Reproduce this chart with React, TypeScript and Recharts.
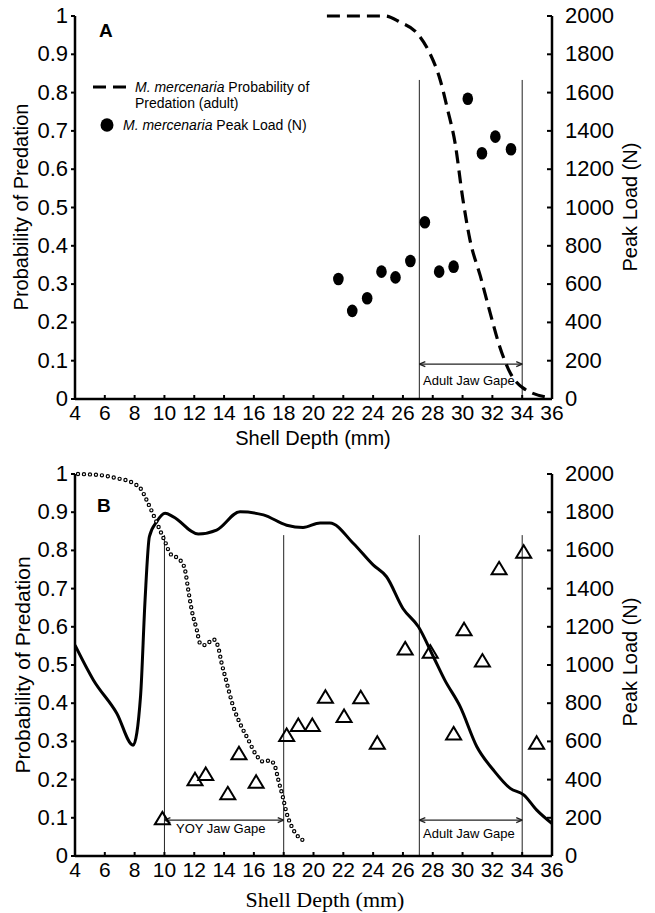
import React from 'react';
import { ComposedChart, Line, Scatter, XAxis, YAxis, ReferenceLine } from 'recharts';

// axis ticks
const xTicks = [4, 6, 8, 10, 12, 14, 16, 18, 20, 22, 24, 26, 28, 30, 32, 34, 36];
const probTicks = [0, 0.1, 0.2, 0.3, 0.4, 0.5, 0.6, 0.7, 0.8, 0.9, 1];
const loadTicks = [0, 200, 400, 600, 800, 1000, 1200, 1400, 1600, 1800, 2000];

// panel A: adult probability of predation (dashed) and peak load (dots)
const adultProbA = [
  { x: 20.9, p: 1.0 }, { x: 24.8, p: 1.0 }, { x: 25.8, p: 0.984 }, { x: 26.95, p: 0.955 },
  { x: 27.8, p: 0.903 }, { x: 28.5, p: 0.833 }, { x: 29.0, p: 0.755 }, { x: 29.5, p: 0.668 },
  { x: 30.0, p: 0.527 }, { x: 30.5, p: 0.415 }, { x: 31.2, p: 0.32 }, { x: 31.85, p: 0.225 },
  { x: 32.5, p: 0.136 }, { x: 33.2, p: 0.068 }, { x: 34.05, p: 0.029 }, { x: 35.9, p: 0.003 },
];
const peakLoadA = [
  { x: 21.67, load: 627 }, { x: 22.6, load: 460 }, { x: 23.6, load: 526 }, { x: 24.56, load: 665 },
  { x: 25.5, load: 635 }, { x: 26.5, load: 721 }, { x: 27.47, load: 923 }, { x: 28.43, load: 665 },
  { x: 29.4, load: 691 }, { x: 30.35, load: 1568 }, { x: 31.3, load: 1283 }, { x: 32.2, load: 1370 },
  { x: 33.25, load: 1304 },
];

// panel B: solid probability curve, YOY dotted curve, peak load triangles
const solidProbB = [
  { x: 4, p: 0.552 }, { x: 5.23, p: 0.461 }, { x: 6.8, p: 0.374 }, { x: 7.9, p: 0.29 },
  { x: 8.4, p: 0.42 }, { x: 8.7, p: 0.67 }, { x: 8.99, p: 0.836 }, { x: 9.48, p: 0.875 },
  { x: 10.04, p: 0.897 }, { x: 10.6, p: 0.888 }, { x: 12.27, p: 0.843 }, { x: 13.5, p: 0.853 },
  { x: 15.07, p: 0.901 }, { x: 16.64, p: 0.893 }, { x: 18.2, p: 0.866 }, { x: 19.3, p: 0.86 },
  { x: 20.44, p: 0.872 }, { x: 21.1, p: 0.872 }, { x: 22.68, p: 0.818 }, { x: 24.0, p: 0.762 },
  { x: 24.9, p: 0.731 }, { x: 26.0, p: 0.648 }, { x: 27.04, p: 0.6 }, { x: 28.05, p: 0.521 },
  { x: 28.8, p: 0.461 }, { x: 29.84, p: 0.391 }, { x: 30.96, p: 0.286 }, { x: 32.07, p: 0.225 },
  { x: 33.2, p: 0.177 }, { x: 34.1, p: 0.16 }, { x: 34.98, p: 0.12 }, { x: 36, p: 0.085 },
];
const yoyProbB = [
  { x: 4.2, p: 1.0 }, { x: 5.68, p: 0.997 }, { x: 6.8, p: 0.989 }, { x: 7.9, p: 0.976 },
  { x: 8.47, p: 0.958 }, { x: 8.8, p: 0.932 }, { x: 9.26, p: 0.893 }, { x: 9.7, p: 0.853 },
  { x: 10.04, p: 0.823 }, { x: 10.38, p: 0.792 }, { x: 11.05, p: 0.775 }, { x: 11.38, p: 0.749 },
  { x: 11.6, p: 0.696 }, { x: 11.83, p: 0.644 }, { x: 12.17, p: 0.592 }, { x: 12.39, p: 0.557 },
  { x: 12.72, p: 0.552 }, { x: 13.28, p: 0.567 }, { x: 13.6, p: 0.548 }, { x: 13.84, p: 0.504 },
  { x: 14.07, p: 0.47 }, { x: 14.62, p: 0.391 }, { x: 15.07, p: 0.347 }, { x: 15.63, p: 0.304 },
  { x: 16.08, p: 0.269 }, { x: 16.64, p: 0.247 }, { x: 17.09, p: 0.25 }, { x: 17.42, p: 0.234 },
  { x: 17.64, p: 0.199 }, { x: 17.94, p: 0.155 }, { x: 18.2, p: 0.112 }, { x: 18.54, p: 0.077 },
  { x: 18.88, p: 0.055 }, { x: 19.26, p: 0.042 },
];
const peakLoadB = [
  { x: 9.86, load: 197 }, { x: 12.05, load: 402 }, { x: 12.77, load: 429 }, { x: 14.25, load: 328 },
  { x: 15.0, load: 538 }, { x: 16.15, load: 389 }, { x: 18.2, load: 634 }, { x: 18.98, load: 686 },
  { x: 19.92, load: 686 }, { x: 20.8, load: 834 }, { x: 22.05, load: 733 }, { x: 23.17, load: 831 },
  { x: 24.28, load: 593 }, { x: 26.15, load: 1087 }, { x: 27.83, load: 1070 }, { x: 29.4, load: 642 },
  { x: 30.1, load: 1187 }, { x: 31.33, load: 1023 }, { x: 32.45, load: 1506 }, { x: 34.1, load: 1593 },
  { x: 34.97, load: 593 },
];

// jaw gape ranges (shell depth) and the probability level of the arrows
const gapesA = [{ from: 27.1, to: 34.0, top: 0.833, arrowY: 0.091 }];
const gapesB = [
  { from: 10, to: 18, top: 0.84, arrowY: 0.094 },
  { from: 27.1, to: 34.0, top: 0.84, arrowY: 0.094 },
];

const SANS = '"Liberation Sans", Arial, sans-serif';
const SERIF = '"Liberation Serif", "Times New Roman", serif';
const AXIS = { stroke: '#000', strokeWidth: 2.5 };

const XTick = ({ x, y, payload }: any) => (
  <g>
    <line x1={x} y1={y} x2={x} y2={y - 4} stroke="#000" strokeWidth={2} />
    <text x={x} y={y + 21} textAnchor="middle" fontSize={21} fontFamily={SANS} fill="#000">
      {payload.value}
    </text>
  </g>
);

const LeftTick = ({ x, y, payload }: any) => (
  <g>
    <line x1={x} y1={y} x2={x - 4} y2={y} stroke="#000" strokeWidth={2} />
    <text x={x - 7} y={y + 7} textAnchor="end" fontSize={22} fontFamily={SANS} fill="#000">
      {payload.value}
    </text>
  </g>
);

const RightTick = ({ x, y, payload }: any) => (
  <g>
    <line x1={x} y1={y} x2={x - 5} y2={y} stroke="#000" strokeWidth={2} />
    <text x={x + 13} y={y + 7} textAnchor="start" fontSize={22} fontFamily={SANS} fill="#000">
      {payload.value}
    </text>
  </g>
);

const renderDot = (p: any) => <ellipse cx={p.cx} cy={p.cy} rx={5.3} ry={6.3} fill="#000" />;
const renderTriangle = (p: any) => (
  <polygon
    points={`${p.cx},${p.cy - 6.5} ${p.cx + 7.5},${p.cy + 6} ${p.cx - 7.5},${p.cy + 6}`}
    fill="none"
    stroke="#000"
    strokeWidth={2}
    strokeLinejoin="miter"
  />
);

// gape bracket: two vertical lines, a double-headed arrow between them
const HEAD_X = 0.4;
const HEAD_Y = 0.0065;
const gapeLines = (g: { from: number; to: number; top: number; arrowY: number }, i: number) => {
  const segs: [number, number, number, number][] = [
    [g.from, 0, g.from, g.top],
    [g.to, 0, g.to, g.top],
    [g.from, g.arrowY, g.to, g.arrowY],
    [g.from, g.arrowY, g.from + HEAD_X, g.arrowY + HEAD_Y],
    [g.from, g.arrowY, g.from + HEAD_X, g.arrowY - HEAD_Y],
    [g.to, g.arrowY, g.to - HEAD_X, g.arrowY + HEAD_Y],
    [g.to, g.arrowY, g.to - HEAD_X, g.arrowY - HEAD_Y],
  ];
  return segs.map((s, j) => (
    <ReferenceLine
      key={`g${i}-${j}`}
      yAxisId="left"
      segment={[{ x: s[0], y: s[1] }, { x: s[2], y: s[3] }]}
      stroke="#222"
      strokeWidth={j < 2 ? 1 : 1.3}
      ifOverflow="visible"
    />
  ));
};

const axes = (
  <>
    <XAxis
      dataKey="x"
      type="number"
      domain={[4, 36]}
      ticks={xTicks}
      interval={0}
      height={30}
      axisLine={AXIS}
      tickLine={false}
      tickSize={0}
      tickMargin={0}
      tick={XTick}
      allowDataOverflow
    />
    <YAxis
      yAxisId="left"
      type="number"
      domain={[0, 1]}
      ticks={probTicks}
      interval={0}
      width={75}
      axisLine={AXIS}
      tickLine={false}
      tickSize={0}
      tickMargin={0}
      tick={LeftTick}
    />
    <YAxis
      yAxisId="right"
      orientation="right"
      type="number"
      domain={[0, 2000]}
      ticks={loadTicks}
      interval={0}
      width={103}
      axisLine={AXIS}
      tickLine={false}
      tickSize={0}
      tickMargin={0}
      tick={RightTick}
    />
  </>
);

const Italic = ({ children }: any) => <tspan fontStyle="italic">{children}</tspan>;

export default function App() {
  return (
    <div style={{ position: 'absolute', left: 0, top: 0, width: 655, height: 913, background: '#fff' }}>
      <div style={{ position: 'absolute', left: 0, top: 0 }}>
        <ComposedChart width={655} height={450} margin={{ top: 16, right: 0, bottom: 21, left: 0 }}>
          {axes.props.children}
          {gapesA.map(gapeLines)}
          <Line
            data={adultProbA}
            dataKey="p"
            yAxisId="left"
            type="monotone"
            stroke="#000"
            strokeWidth={3.2}
            strokeDasharray="13 7"
            dot={false}
            isAnimationActive={false}
          />
          <Scatter data={peakLoadA} dataKey="load" yAxisId="right" shape={renderDot} isAnimationActive={false} />
        </ComposedChart>
      </div>
      <div style={{ position: 'absolute', left: 0, top: 450 }}>
        <ComposedChart width={655} height={463} margin={{ top: 24, right: 0, bottom: 27, left: 0 }}>
          {axes.props.children}
          {gapesB.map(gapeLines)}
          <Line
            data={solidProbB}
            dataKey="p"
            yAxisId="left"
            type="monotone"
            stroke="#000"
            strokeWidth={3}
            dot={false}
            isAnimationActive={false}
          />
          <Line
            data={yoyProbB}
            dataKey="p"
            yAxisId="left"
            type="monotone"
            stroke="#000"
            strokeWidth={4.4}
            strokeDasharray="0 6"
            strokeLinecap="round"
            dot={false}
            isAnimationActive={false}
          />
          <Line
            data={yoyProbB}
            dataKey="p"
            yAxisId="left"
            type="monotone"
            stroke="#fff"
            strokeWidth={2}
            strokeDasharray="0 6"
            strokeLinecap="round"
            dot={false}
            isAnimationActive={false}
          />
          <Scatter data={peakLoadB} dataKey="load" yAxisId="right" shape={renderTriangle} isAnimationActive={false} />
        </ComposedChart>
      </div>
      <svg
        width={655}
        height={913}
        style={{ position: 'absolute', left: 0, top: 0, pointerEvents: 'none' }}
        fontFamily={SANS}
        fill="#000"
      >
        <text x={99} y={37} fontSize={19} fontWeight="bold">A</text>
        <text x={97} y={512} fontSize={19} fontWeight="bold">B</text>

        {/* legend, panel A */}
        <line x1={93} y1={87} x2={128} y2={87} stroke="#000" strokeWidth={3.2} strokeDasharray="13 7" />
        <text x={135} y={92} fontSize={14}>
          <Italic>M. mercenaria</Italic> Probability of
        </text>
        <text x={135} y={108} fontSize={14}>Predation (adult)</text>
        <ellipse cx={107} cy={125} rx={6.5} ry={6.8} fill="#000" />
        <text x={123} y={130} fontSize={14}>
          <Italic>M. mercenaria</Italic> Peak Load (N)
        </text>

        {/* axis titles */}
        <text transform="translate(28,207) rotate(-90)" textAnchor="middle" fontSize={20}>Probability of Predation</text>
        <text transform="translate(637,207) rotate(-90)" textAnchor="middle" fontSize={20}>Peak Load (N)</text>
        <text x={313} y={445} textAnchor="middle" fontSize={20}>Shell Depth (mm)</text>

        <text transform="translate(30,665) rotate(-90)" textAnchor="middle" fontSize={21}>Probability of Predation</text>
        <text transform="translate(637,662) rotate(-90)" textAnchor="middle" fontSize={20}>Peak Load (N)</text>
        <text x={325} y={907} textAnchor="middle" fontSize={22} fontFamily={SERIF}>Shell Depth (mm)</text>

        {/* gape labels */}
        <text x={423} y={385} fontSize={13}>Adult Jaw Gape</text>
        <text x={176} y={833} fontSize={13}>YOY Jaw Gape</text>
        <text x={423} y={838} fontSize={13}>Adult Jaw Gape</text>
      </svg>
    </div>
  );
}
